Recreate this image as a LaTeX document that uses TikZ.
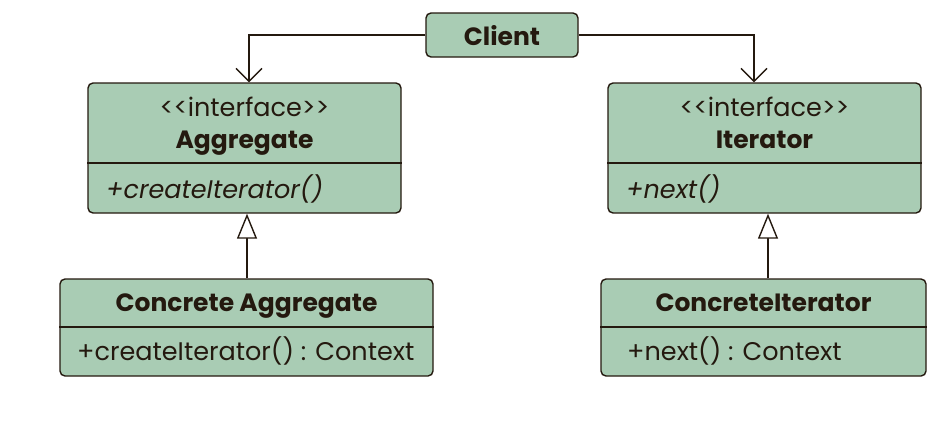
\documentclass[tikz,border=0pt]{standalone}
\usepackage{fontspec}
\setmainfont{Poppins}
\usetikzlibrary{arrows.meta}
\definecolor{boxfill}{HTML}{A9CCB4}
\definecolor{ink}{HTML}{24190F}
\newcommand\diagfont{\fontsize{25.5}{30}\selectfont}
\begin{document}
\begin{tikzpicture}[x=1pt,y=-1pt,
  umlbox/.style={draw=ink, fill=boxfill, line width=1.4pt, rounded corners=5pt, inner sep=0pt},
  txt/.style={text=ink, inner sep=0pt, anchor=base, font=\diagfont},
  bold/.style={txt, font=\fontsize{25}{30}\selectfont\bfseries},
  ital/.style={txt, anchor=base west, font=\diagfont\itshape},
  sep/.style={draw=ink, line width=1.4pt},
  assoc/.style={draw=ink, line width=1.4pt, -{Straight Barb[length=13pt,width=26pt,line width=1.4pt]}},
  inherit/.style={draw=ink, line width=1.4pt, -{Triangle[open,length=25pt,width=20pt,fill=white,line width=1.4pt]}}]
\useasboundingbox (0,0) rectangle (948,426);

% Client
\node[umlbox, minimum width=152, minimum height=44] (client) at (502,35) {};
\node[bold] (clientname) at (502,45) {Client};

% Aggregate interface
\node[umlbox, minimum width=313, minimum height=130] (agg) at (244.5,148) {};
\node[txt] (aggst) at (244.5,116) {<\kern0pt<interface>\kern0pt>};
\node[bold] (aggname) at (244.5,148) {Aggregate};
\draw[sep] (agg.west |- 0,163) -- (agg.east |- 0,163);
\node[ital] (aggop) at (106,198) {+createIterator()};

% Iterator interface
\node[umlbox, minimum width=313, minimum height=130] (iter) at (764.5,148) {};
\node[txt] (iterst) at (764.5,116) {<\kern0pt<interface>\kern0pt>};
\node[bold] (itername) at (764.5,148) {Iterator};
\draw[sep] (iter.west |- 0,163) -- (iter.east |- 0,163);
\node[ital] (iterop) at (626,198) {+next()};

% Concrete Aggregate
\node[umlbox, minimum width=373, minimum height=97] (cagg) at (246.5,327.5) {};
\node[bold] (caggname) at (246.5,311.5) {Concrete Aggregate};
\draw[sep] (cagg.west |- 0,327) -- (cagg.east |- 0,327);
\node[txt, anchor=base west] (caggop) at (77,360) {+createIterator() : Context};

% Concrete Iterator
\node[umlbox, minimum width=325, minimum height=97] (citer) at (763.5,327.5) {};
\node[bold] (citername) at (763.5,311.5) {ConcreteIterator};
\draw[sep] (citer.west |- 0,327) -- (citer.east |- 0,327);
\node[txt, anchor=base west] (citerop) at (627,360) {+next() : Context};

% Client associations
\draw[assoc] (client.west) -| ([xshift=4.5]agg.north);
\draw[assoc] (client.east) -| ([xshift=-10.5]iter.north);

% Generalisations
\draw[inherit] ([xshift=0.5]cagg.north) -- ([xshift=0.5]cagg.north |- agg.south);
\draw[inherit] ([xshift=4.5]citer.north) -- ([xshift=4.5]citer.north |- iter.south);
\end{tikzpicture}
\end{document}
